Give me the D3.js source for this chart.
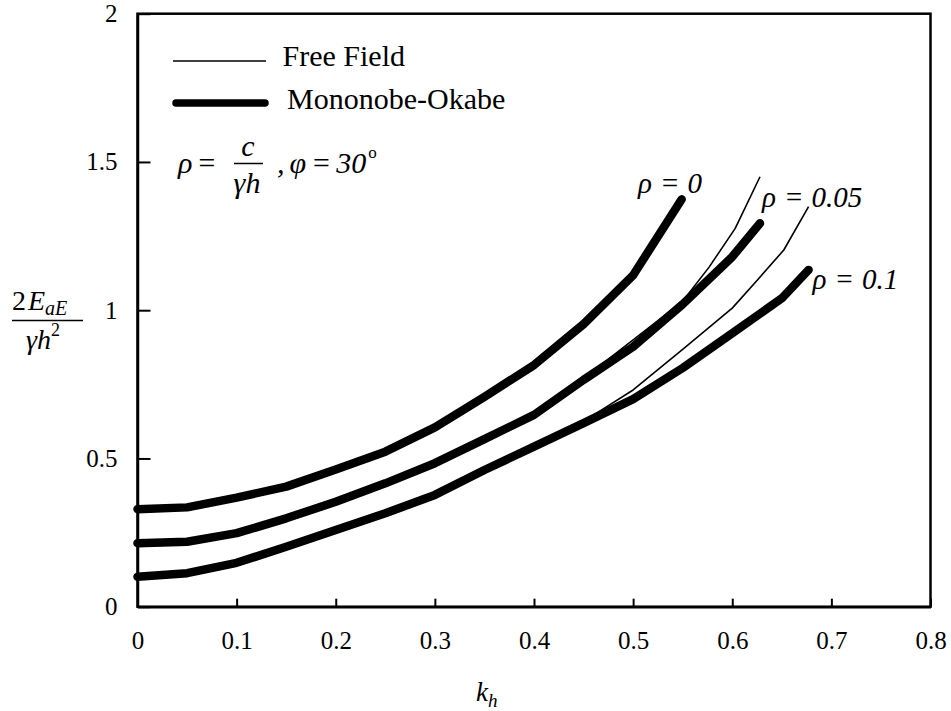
<!DOCTYPE html>
<html><head><meta charset="utf-8">
<script src="https://cdn.jsdelivr.net/npm/d3@7"></script>
<style>body{margin:0;background:#fff}svg{display:block}</style>
</head><body><svg id="c" width="951" height="711" font-family="'Liberation Serif', 'Times New Roman', 'DejaVu Serif', serif"></svg>
<script>
// ---- data ----
const xTicks = [0,0.1,0.2,0.3,0.4,0.5,0.6,0.7,0.8];
const xTickLabels = ["0","0.1","0.2","0.3","0.4","0.5","0.6","0.7","0.8"];
const yTicks = [0,0.5,1,1.5,2];
const yTickLabels = ["0","0.5","1","1.5","2"];

// Mononobe-Okabe (thick)
const moRho0K   = [0,0.05,0.1,0.15,0.2,0.25,0.3,0.35,0.4,0.45,0.5,0.549];
const moRho0    = [0.329,0.335,0.368,0.405,0.463,0.523,0.605,0.708,0.815,0.953,1.118,1.374];
const moRho005K = [0,0.05,0.1,0.15,0.2,0.25,0.3,0.35,0.4,0.45,0.5,0.55,0.6,0.628];
const moRho005  = [0.214,0.219,0.248,0.298,0.354,0.416,0.484,0.565,0.647,0.765,0.877,1.02,1.18,1.293];
const moRho01K  = [0,0.05,0.1,0.15,0.2,0.25,0.3,0.35,0.4,0.45,0.5,0.55,0.6,0.65,0.677];
const moRho01   = [0.101,0.113,0.148,0.202,0.259,0.315,0.377,0.461,0.54,0.619,0.70,0.805,0.922,1.04,1.136];

// Free Field (thin)
const ffRho0K   = [0,0.05,0.1,0.15,0.2,0.25,0.3,0.35,0.4,0.45,0.5,0.549];
const ffRho0    = [0.329,0.335,0.368,0.405,0.463,0.523,0.605,0.708,0.815,0.953,1.118,1.374];
const ffRho005K = [0,0.05,0.1,0.15,0.2,0.25,0.3,0.35,0.4,0.45,0.5,0.55,0.577,0.603,0.628];
const ffRho005  = [0.214,0.219,0.248,0.298,0.354,0.416,0.484,0.565,0.647,0.77,0.90,1.03,1.147,1.276,1.45];
const ffRho01K  = [0,0.05,0.1,0.15,0.2,0.25,0.3,0.35,0.4,0.45,0.5,0.55,0.6,0.627,0.652,0.677];
const ffRho01   = [0.101,0.113,0.148,0.202,0.259,0.315,0.377,0.461,0.54,0.625,0.731,0.868,1.007,1.108,1.203,1.349];

const curveLabels = ["\u03c1 = 0","\u03c1 = 0.05","\u03c1 = 0.1"];
const legendLabels = ["Free Field","Mononobe-Okabe"];

// ---- drawing ----
const FONT = "'Liberation Serif', 'Times New Roman', 'DejaVu Serif', serif";
const svg = d3.select("#c");
const x = d3.scaleLinear().domain([0,0.8]).range([137.5,930.5]);
const y = d3.scaleLinear().domain([0,2]).range([606.7,13.7]);

const line = d3.line().x(d=>x(d[0])).y(d=>y(d[1]));
const zip = (k,v)=>k.map((kk,i)=>[kk,v[i]]);

// frame
svg.append("rect").attr("x",x(0)).attr("y",y(2)).attr("width",x(0.8)-x(0)).attr("height",y(0)-y(2))
  .attr("fill","none").attr("stroke","#000").attr("stroke-width",2.5);

// axes
const fs = 25;
const xAxis = d3.axisBottom(x).tickValues(xTicks).tickSizeInner(-8).tickSizeOuter(0).tickPadding(25)
  .tickFormat((d,i)=>xTickLabels[i]);
const gx = svg.append("g").attr("transform",`translate(0,${y(0)})`).call(xAxis);
const yAxis = d3.axisLeft(y).tickValues(yTicks).tickSizeInner(-13).tickSizeOuter(0).tickPadding(20)
  .tickFormat((d,i)=>yTickLabels[i]);
const gy = svg.append("g").attr("transform",`translate(${x(0)},0)`).call(yAxis);
[gx,gy].forEach(g=>{
  g.attr("font-family",FONT).attr("font-size",fs);
  g.select(".domain").attr("stroke","#000").attr("stroke-width",2.5);
  g.selectAll(".tick line").attr("stroke","#000").attr("stroke-width",2);
  g.selectAll(".tick text").attr("font-family",FONT).attr("font-size",fs).attr("fill","#000");
});

// curves
const thin = [zip(ffRho0K,ffRho0),zip(ffRho005K,ffRho005),zip(ffRho01K,ffRho01)];
const thick = [zip(moRho0K,moRho0),zip(moRho005K,moRho005),zip(moRho01K,moRho01)];
svg.append("g").selectAll("path").data(thick).join("path")
  .attr("d",line).attr("fill","none").attr("stroke","#000").attr("stroke-width",8.5)
  .attr("stroke-linecap","round").attr("stroke-linejoin","round");
svg.append("g").selectAll("path").data(thin).join("path")
  .attr("d",line).attr("fill","none").attr("stroke","#000").attr("stroke-width",1.6)
  .attr("stroke-linejoin","round");

// curve labels (rho = value), spaced like the original
const labPos = [[0.505,1.395],[0.63,1.348],[0.681,1.073]];
const lt = svg.append("g").selectAll("text").data(curveLabels).join("text")
  .attr("x",(d,i)=>x(labPos[i][0])).attr("y",(d,i)=>y(labPos[i][1]))
  .attr("font-family",FONT).attr("font-size",29).attr("font-style","italic");
lt.append("tspan").text(d=>d.split(" = ")[0]);
lt.append("tspan").attr("dx",8).text("=");
lt.append("tspan").attr("dx",8).text(d=>d.split(" = ")[1]);

// legend
svg.append("line").attr("x1",173).attr("x2",266).attr("y1",61).attr("y2",61).attr("stroke","#000").attr("stroke-width",1.6);
svg.append("line").attr("x1",176).attr("x2",265).attr("y1",103).attr("y2",103).attr("stroke","#000").attr("stroke-width",7.5).attr("stroke-linecap","round");
svg.append("text").attr("x",282.5).attr("y",66).attr("font-family",FONT).attr("font-size",30).text(legendLabels[0]);
svg.append("text").attr("x",287).attr("y",109).attr("font-family",FONT).attr("font-size",30).text(legendLabels[1]);

// formula rho = c / (gamma h), phi = 30 deg
const fg = svg.append("g").attr("font-family",FONT).attr("font-size",30).attr("font-style","italic");
const t1 = fg.append("text").attr("x",178).attr("y",173);
t1.append("tspan").text("\u03c1");
t1.append("tspan").attr("dx",4).text("=");
fg.append("text").attr("x",248).attr("y",156).attr("text-anchor","middle").text("c");
svg.append("line").attr("x1",234).attr("x2",263).attr("y1",163.5).attr("y2",163.5).attr("stroke","#000").attr("stroke-width",1.5);
fg.append("text").attr("x",247).attr("y",193).attr("text-anchor","middle").text("\u03b3h");
const t2 = fg.append("text").attr("x",277).attr("y",173);
t2.append("tspan").text(",");
t2.append("tspan").attr("dx",5).text("\u03c6");
t2.append("tspan").attr("dx",5).text("=");
t2.append("tspan").attr("dx",5).text("30");
t2.append("tspan").attr("font-style","normal").attr("font-size",17).attr("dx",2).attr("dy",-15).text("o");

// y axis label
const yl = svg.append("g").attr("font-family",FONT).attr("font-size",28);
const n1 = yl.append("text").attr("x",12).attr("y",310);
n1.append("tspan").text("2");
n1.append("tspan").attr("font-style","italic").attr("dx",2).text("E");
n1.append("tspan").attr("font-style","italic").attr("font-size",20).attr("dy",5).text("aE");
svg.append("line").attr("x1",12).attr("x2",83).attr("y1",320.5).attr("y2",320.5).attr("stroke","#000").attr("stroke-width",1.5);
const d1 = yl.append("text").attr("x",26).attr("y",349);
d1.append("tspan").attr("font-style","italic").text("\u03b3h");
d1.append("tspan").attr("font-size",18).attr("dy",-13).text("2");

// x axis label
const xl = svg.append("text").attr("x",476).attr("y",701).attr("font-family",FONT).attr("font-size",27).attr("font-style","italic");
xl.append("tspan").text("k");
xl.append("tspan").attr("font-size",19).attr("dy",6).text("h");
</script></body></html>
